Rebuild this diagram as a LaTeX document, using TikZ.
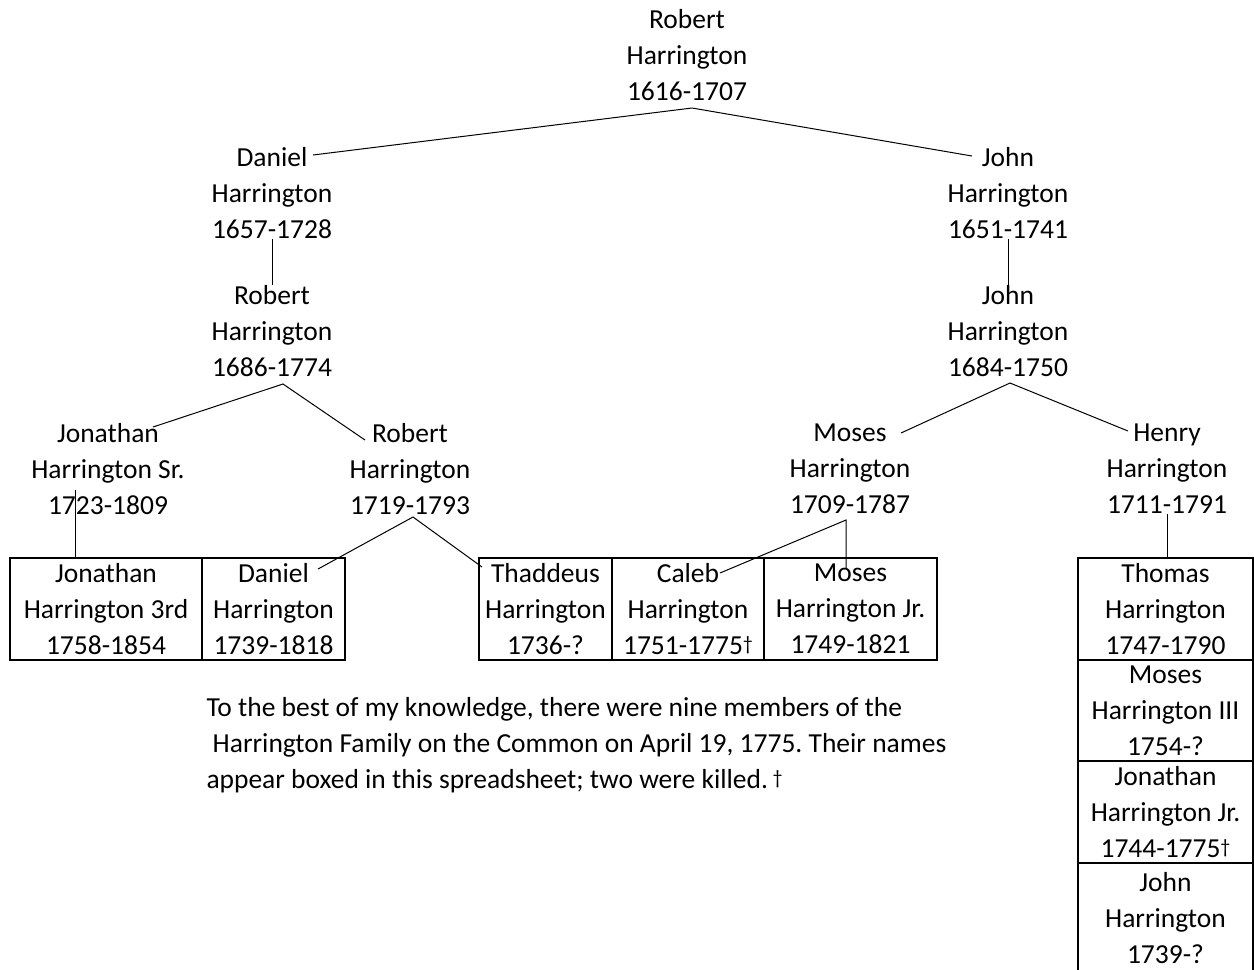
\documentclass[tikz,border=0pt]{standalone}
\usepackage{fontspec}
\setmainfont{Carlito}
\frenchspacing
\newcommand{\killedmark}{\raisebox{1.6pt}{\fontsize{8}{8}\selectfont †}}
\tikzset{
    person/.style={align=center, inner sep=0pt, font=\fontsize{11}{14.4}\selectfont},
    cell/.style={person, draw, line width=0.8pt, minimum height=40.8pt},
    link/.style={line width=0.4pt},
}

\begin{document}
\begin{tikzpicture}[x=0.4pt, y=-0.4pt]
    \useasboundingbox (0,0) rectangle (1254,969);
    \clip (0,0) rectangle (1254,969);
    % older generations
    \node[person] (rh1616) at (687,55) {Robert\\Harrington\\1616-1707};
    \node[person] (dh1657) at (272,193) {Daniel\\Harrington\\1657-1728};
    \node[person] (jh1651) at (1008,193) {John\\Harrington\\1651-1741};
    \node[person] (rh1686) at (272,331) {Robert\\Harrington\\1686-1774};
    \node[person] (jh1684) at (1008,331) {John\\Harrington\\1684-1750};
    \node[person] (jon1723) at (108,469) {Jonathan\\Harrington Sr.\\1723-1809};
    \node[person] (rob1719) at (410,469) {Robert\\Harrington\\1719-1793};
    \node[person] (mos1709) at (850,469) {Moses\\Harrington\\1709-1787};
    \node[person] (hen1711) at (1167,469) {Henry\\Harrington\\1711-1791};
    % on the Common
    \node[cell, minimum width=76.8pt] (jon1758) at (106,609) {Jonathan\\Harrington 3rd\\1758-1854};
    \node[cell, minimum width=57.2pt] (dan1739) at (273.5,609) {Daniel\\Harrington\\1739-1818};
    \node[cell, minimum width=53.2pt] (tha1736) at (545.5,609) {Thaddeus\\Harrington\\1736-?};
    \node[cell, minimum width=60.8pt] (cal1751) at (688,609) {Caleb\\Harrington\\1751-1775\killedmark};
    \node[cell, minimum width=69.2pt] (mos1749) at (850.5,609) {Moses\\Harrington Jr.\\1749-1821};
    \node[cell, minimum width=70pt] (tho1747) at (1165.5,609) {Thomas\\Harrington\\1747-1790};
    \node[cell, minimum width=70pt, minimum height=40.4pt] (mos1754) at (1165.5,710.5) {Moses\\Harrington III\\1754-?};
    \node[cell, minimum width=70pt] (jon1744) at (1165.5,812) {Jonathan\\Harrington Jr.\\1744-1775\killedmark};
    \node[cell, minimum width=70pt, minimum height=44pt] (joh1739) at (1165.5,918) {John\\Harrington\\1739-?};
    \node[person, align=left, anchor=west] (note) at (206,745)
        {To the best of my knowledge, there were nine members of the\\\ Harrington Family on the Common on April 19, 1775. Their names\\appear boxed in this spreadsheet; two were killed.\,\killedmark};
    % ends of the connectors
    \coordinate (rh1616-b) at (692,108);
    \coordinate (dh1657-r) at (313,155);
    \coordinate (jh1651-l) at (972,156);
    \coordinate (rh1686-b) at (283,384);
    \coordinate (jon1723-r) at (153,427);
    \coordinate (rob1719-l) at (365,440);
    \coordinate (jh1684-b) at (1010,383);
    \coordinate (mos1709-r) at (901,433);
    \coordinate (hen1711-l) at (1128,431);
    \coordinate (jon1723-b) at (75,490);
    \coordinate (rob1719-b) at (413,517);
    \coordinate (dan1739-r) at (318,569);
    \coordinate (tha1736-l) at (482,567);
    \coordinate (mos1709-b) at (846,520);
    \coordinate (cal1751-r) at (720,573);
    \coordinate (mos1749-t) at (846,568);
    % connectors
    \foreach \a/\b/\c in {dh1657-r/rh1616-b/jh1651-l, jon1723-r/rh1686-b/rob1719-l,
                          mos1709-r/jh1684-b/hen1711-l, dan1739-r/rob1719-b/tha1736-l,
                          cal1751-r/mos1709-b/mos1749-t} {
        \draw[link] (\a) -- (\b) -- (\c);
    }
    \draw[link] (dh1657.south) -- (rh1686.north);
    \draw[link] (jh1651.south) -- (jh1684.north);
    \draw[link] (jon1723-b) -- (jon1723-b |- jon1758.north);
    \draw[link] (hen1711.south) -- (hen1711.south |- tho1747.north);
\end{tikzpicture}
\end{document}
